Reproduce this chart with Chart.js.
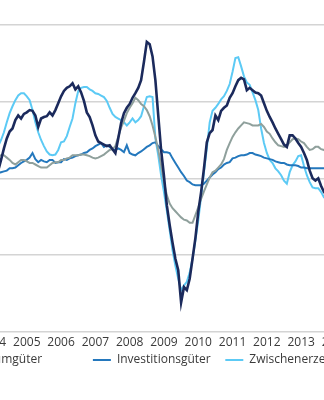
<!DOCTYPE html>
<html>
<head>
<meta charset="utf-8">
<script src="https://cdn.jsdelivr.net/npm/chart.js@4"></script>
<style>
  html, body { margin: 0; padding: 0; background: #fff; overflow: hidden; }
  #wrap { position: relative; width: 324px; height: 400px; overflow: hidden; }
  #chart { position: absolute; left: -194px; top: 0; }
</style>
</head>
<body>
<div id="wrap"><canvas id="chart" width="588" height="400"></canvas></div>
<script>
// monthly, Jan 2004 .. Jun 2014, change vs. previous year in %
const years = [2004, 2005, 2006, 2007, 2008, 2009, 2010, 2011, 2012, 2013, 2014, 2015];
const axisMonths = 138; // axis runs on to mid 2015
const seriesNames = ['Insgesamt', 'Konsumgüter', 'Investitionsgüter', 'Zwischenerzeugnisse'];

const insgesamt = [
    -0.9, 0, 1.0, 2.4, 3.9, 5.2, 6.1, 6.5, 7.6, 8.2, 7.8, 8.4,
    8.6, 8.9, 8.8, 8.2, 6.7, 7.8, 8.0, 8.1, 8.6, 8.2, 8.9, 9.8,
    10.7, 11.4, 11.8, 12.0, 12.4, 11.6, 12.0, 11.2, 10.1, 8.6, 8.0, 6.9,
    5.6, 4.8, 4.6, 4.4, 4.2, 4.3, 3.8, 3.3, 5.2, 7.2, 8.5, 9.2,
    9.7, 10.5, 11.1, 11.8, 12.8, 15.2, 17.8, 17.5, 15.9, 12.8, 8.2, 3.7,
    0.3, -3.5, -6.1, -8.4, -10.5, -12.0, -16.2, -14.2, -14.6, -13.1, -10.5, -7.8,
    -4.4, -1.8, 1.3, 4.7, 5.9, 6.3, 8.2, 7.6, 8.8, 9.2, 9.5, 10.5,
    11.1, 12.0, 12.8, 13.1, 12.9, 11.5, 11.8, 11.5, 11.2, 11.1, 10.8, 9.8,
    8.8, 8.0, 7.3, 6.5, 5.8, 5.1, 4.4, 4.1, 5.6, 5.6, 5.2, 4.6,
    4.1, 3.3, 2.4, 1.0, 0, -0.3, 0, -1.0, -1.8, -2.2, -1.8, -1.3,
    -0.9, -0.5, 0, 0.4, 0.8, 1.0
];
const konsum = [
    2.4, 2.6, 2.9, 3.0, 3.0, 2.7, 2.4, 2.0, 1.8, 2.1, 2.4, 2.4,
    2.2, 2.0, 2.0, 1.8, 1.6, 1.4, 1.4, 1.4, 1.7, 2.0, 2.1, 2.1,
    2.4, 2.4, 2.6, 2.7, 3.0, 3.0, 3.0, 3.1, 3.1, 3.0, 2.9, 2.7,
    2.6, 2.7, 2.9, 3.1, 3.4, 3.7, 3.8, 4.2, 5.4, 6.6, 7.5, 8.5,
    9.2, 9.8, 10.5, 10.2, 9.7, 9.4, 8.9, 8.1, 6.9, 5.4, 3.7, 1.7,
    -0.5, -2.2, -3.3, -3.9, -4.3, -4.7, -5.1, -5.4, -5.5, -5.8, -5.8, -4.8,
    -3.8, -2.7, -1.7, -0.8, 0.1, 0.8, 1.0, 1.4, 1.8, 2.5, 3.7, 4.6,
    5.4, 6.0, 6.5, 6.9, 7.3, 7.2, 7.1, 6.9, 6.9, 6.9, 7.1, 6.7,
    6.1, 5.8, 5.2, 4.7, 4.3, 4.2, 4.1, 4.2, 4.7, 5.1, 5.2, 5.1,
    4.8, 4.6, 4.1, 3.7, 3.8, 4.1, 4.1, 3.8, 3.7, 3.4, 3.3, 3.3,
    3.4, 3.5, 3.7, 3.7, 3.8, 3.8
];
const investition = [
    0.3, 0.4, 0.7, 0.8, 0.9, 1.0, 1.3, 1.3, 1.4, 1.7, 2.0, 2.2,
    2.4, 2.7, 3.3, 2.5, 2.1, 2.4, 2.2, 2.1, 2.4, 2.4, 2.0, 2.1,
    2.1, 2.5, 2.4, 2.6, 2.7, 2.9, 3.0, 3.1, 3.3, 3.4, 3.7, 3.9,
    4.2, 4.4, 4.6, 4.1, 4.3, 4.1, 3.8, 3.7, 3.9, 3.7, 3.4, 4.3,
    3.3, 3.1, 3.0, 3.3, 3.5, 3.8, 4.1, 4.3, 4.6, 4.7, 4.2, 3.8,
    3.4, 3.4, 3.3, 2.6, 2.0, 1.4, 0.8, 0.3, -0.3, -0.5, -0.8, -0.9,
    -0.9, -0.9, -0.7, -0.3, 0.1, 0.5, 0.8, 1.2, 1.4, 1.8, 2.0, 2.1,
    2.6, 2.7, 2.9, 3.0, 3.0, 3.1, 3.3, 3.3, 3.1, 3.0, 2.9, 2.7,
    2.6, 2.5, 2.4, 2.2, 2.1, 2.0, 2.0, 1.8, 1.7, 1.7, 1.7, 1.6,
    1.4, 1.4, 1.3, 1.3, 1.3, 1.3, 1.3, 1.3, 1.3, 1.3, 1.3, 1.4,
    1.4, 1.6, 1.6, 1.7, 1.7, 1.8
];
const zwischen = [
    1.7, 3.0, 4.2, 5.0, 6.0, 7.3, 8.5, 9.4, 10.2, 10.8, 11.1, 11.1,
    10.7, 10.2, 8.9, 7.3, 6.0, 5.0, 4.2, 3.5, 3.1, 3.0, 3.1, 3.7,
    4.7, 4.8, 5.5, 6.7, 7.8, 9.8, 11.4, 11.8, 11.9, 11.9, 11.6, 11.4,
    11.1, 11.0, 10.8, 10.6, 10.1, 9.2, 8.4, 8.0, 7.8, 7.6, 7.3, 6.9,
    7.3, 7.8, 7.3, 7.6, 8.1, 9.4, 10.6, 10.7, 10.6, 5.2, 3.0, 0.4,
    -1.8, -4.2, -6.8, -9.4, -11.4, -13.1, -14.6, -14.0, -13.5, -12.3, -10.5, -8.1,
    -5.5, -2.4, 0.8, 3.9, 7.3, 8.8, 9.2, 9.7, 10.3, 10.7, 11.4, 12.3,
    13.9, 15.7, 15.8, 14.6, 13.3, 12.5, 12.2, 11.2, 10.2, 8.9, 6.5, 4.6,
    3.3, 2.4, 2.0, 1.3, 0.9, 0.4, -0.3, -0.7, 0.8, 1.7, 2.2, 2.9,
    3.0, 1.6, 0.4, -0.5, -1.2, -1.3, -1.3, -1.8, -2.5, -2.6, -2.2, -1.6,
    -1.0, -0.5, 0, 0.5, 1.0, 1.3
];
const yTicks = [-20, -10, 0, 10, 20];

const months = [];
years.forEach(y => {
    for (let m = 1; m <= 12; m++) {
        if (months.length < axisMonths) months.push(y + '-' + String(m).padStart(2, '0'));
    }
});

const font = '"Open Sans", sans-serif';
Chart.defaults.font.family = font;
Chart.defaults.font.size = 12;
Chart.defaults.color = '#3a3a3a';

// legend items sit in fixed columns, so pad the names with blank space
const measure = document.createElement('canvas').getContext('2d');
measure.font = '12px ' + font;
function padName(text, w) {
    let s = text;
    while (measure.measureText(s + ' ').width <= w) s += ' ';
    while (measure.measureText(s + '\u200A').width <= w) s += '\u200A';
    return s;
}

const line = (label, w, data, color, width) => ({
    label: padName(label, w),
    data: data,
    borderColor: color,
    backgroundColor: color,
    borderWidth: width,
    pointRadius: 0,
    tension: 0,
    fill: false
});

new Chart(document.getElementById('chart'), {
    type: 'line',
    data: {
        labels: months,
        datasets: [
            line(seriesNames[0], 105, insgesamt, '#1b2a5c', 2.6),
            line(seriesNames[1], 123, konsum, '#8fa09c', 2),
            line(seriesNames[2], 105, investition, '#2478bd', 2),
            line(seriesNames[3], 0, zwischen, '#5ccaf5', 2)
        ]
    },
    options: {
        responsive: false,
        animation: false,
        layout: { padding: { top: 25, right: 10, bottom: 24, left: 0 } },
        plugins: {
            legend: {
                position: 'bottom',
                align: 'start',
                labels: {
                    usePointStyle: true,
                    pointStyle: 'line',
                    pointStyleWidth: 18,
                    padding: 4,
                    color: '#3a3a3a'
                }
            },
            tooltip: { enabled: false }
        },
        scales: {
            x: {
                grid: { display: false, drawTicks: false },
                border: { display: false },
                afterFit: s => { s.height = s.height - 4; },
                ticks: {
                    autoSkip: false,
                    maxRotation: 0,
                    padding: 4,
                    callback: function (val) {
                        const l = this.getLabelForValue(val);
                        return l.endsWith('-01') ? l.slice(0, 4) : '';
                    }
                }
            },
            y: {
                min: yTicks[0],
                max: yTicks[yTicks.length - 1],
                afterFit: s => { s.width = 186.5; },
                afterBuildTicks: s => { s.ticks = yTicks.map(v => ({ value: v })); },
                grid: { color: '#d4d4d4', lineWidth: 1.6, drawTicks: false },
                border: { display: false },
                ticks: { padding: 6 }
            }
        }
    }
});
</script>
</body>
</html>
